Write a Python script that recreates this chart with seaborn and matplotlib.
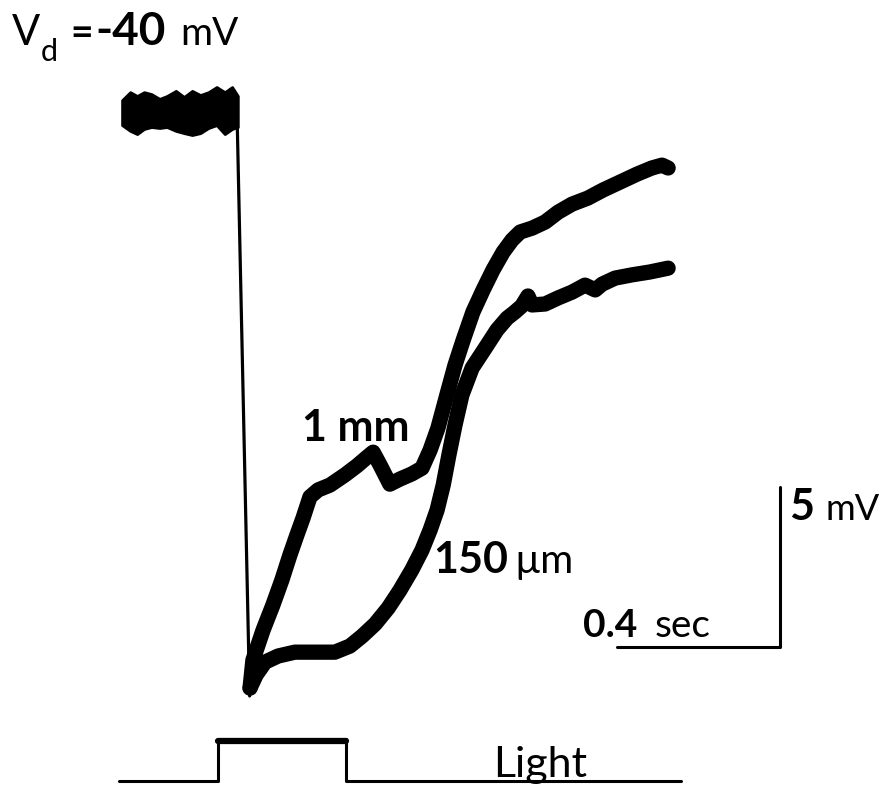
import numpy as np
import pandas as pd
import matplotlib
matplotlib.use("Agg")
import matplotlib.pyplot as plt
import seaborn as sns

# ---------------- data (time in s, potential in mV) ----------------
# dark baseline (noisy band: upper / lower envelope)
t_base = [-0.282, -0.262, -0.245, -0.228, -0.210, -0.190, -0.172, -0.150,
          -0.130, -0.110, -0.090, -0.070, -0.050, -0.030, -0.012, 0.002]
v_base_upper = [-39.63, -39.38, -39.50, -39.38, -39.44, -39.59, -39.50, -39.34,
                -39.53, -39.34, -39.47, -39.38, -39.22, -39.38, -39.22, -39.50]
v_base_lower = [-40.41, -40.59, -40.69, -40.53, -40.47, -40.50, -40.47, -40.59,
                -40.66, -40.72, -40.66, -40.50, -40.41, -40.69, -40.53, -40.47]

# fast hyperpolarising drop
t_drop = [0.000, 0.031]
v_drop = [-40.0, -58.25]

# response recorded 1 mm away
t_1mm = [0.032, 0.039, 0.064, 0.088, 0.110, 0.130, 0.147, 0.162, 0.179, 0.199,
         0.228, 0.265, 0.294, 0.317, 0.334, 0.351, 0.375, 0.400, 0.429, 0.454,
         0.474, 0.493, 0.515, 0.535, 0.555, 0.579, 0.604, 0.628, 0.653, 0.675,
         0.695, 0.724, 0.756, 0.788, 0.822, 0.861, 0.898, 0.940, 0.982, 1.018,
         1.043, 1.058]
v_1mm = [-58.00, -57.13, -56.19, -55.41, -54.63, -53.84, -53.22, -52.69, -52.03, -51.81,
         -51.66, -51.34, -51.06, -50.81, -50.63, -51.03, -51.63, -51.47, -51.31, -51.13,
         -50.56, -49.88, -48.84, -47.91, -47.13, -46.25, -45.56, -44.94, -44.38, -44.00,
         -43.75, -43.63, -43.44, -43.13, -42.88, -42.69, -42.44, -42.19, -41.94, -41.75,
         -41.66, -41.75]

# response recorded 150 um away
t_150 = [0.032, 0.047, 0.069, 0.101, 0.142, 0.191, 0.240, 0.277, 0.307, 0.339,
         0.371, 0.400, 0.429, 0.454, 0.474, 0.491, 0.506, 0.520, 0.535, 0.552,
         0.577, 0.609, 0.638, 0.663, 0.682, 0.699, 0.714, 0.724, 0.756, 0.788,
         0.822, 0.854, 0.879, 0.896, 0.928, 0.969, 1.013, 1.058]
v_150 = [-58.00, -57.59, -57.19, -57.00, -56.88, -56.88, -56.88, -56.69, -56.38, -56.00,
         -55.50, -54.94, -54.31, -53.69, -53.06, -52.44, -51.66, -50.72, -49.78, -48.84,
         -48.00, -47.38, -46.81, -46.44, -46.25, -46.06, -45.75, -46.03, -46.00, -45.81,
         -45.63, -45.41, -45.56, -45.38, -45.19, -45.09, -45.00, -44.88]

# light stimulus monitor
light_start, light_on, light_off, light_end = -0.290, -0.047, 0.268, 1.090

# scale bars
scale_t = 0.4   # sec
scale_v = 5.0   # mV

trace_labels = ["1 mm", "150 µm"]

# ---------------- figure ----------------
W, H, DPI = 889, 786, 100
sns.set_theme(style="white")
plt.rcParams["font.family"] = ["Lato", "DejaVu Sans"]

fig = plt.figure(figsize=(W / DPI, H / DPI), dpi=DPI)
ax = fig.add_axes([0, 0, 1, 1])

# pixel-to-data mapping: 407.5 px per second, 32 px per mV
px_per_s, px_per_mv = 407.5, 32.0
x0_px, y0_px = 237.0, 112.0
ax.set_xlim(-x0_px / px_per_s, (W - x0_px) / px_per_s)
ax.set_ylim(-40 - (H - y0_px) / px_per_mv, -40 + y0_px / px_per_mv)
ax.set_axis_off()

def tpx(x):
    return (x - x0_px) / px_per_s

def vpx(y):
    return -40 - (y - y0_px) / px_per_mv

ink = "black"

# baseline band
ax.fill_between(t_base, v_base_lower, v_base_upper, color=ink, lw=2.0,
                edgecolor=ink, joinstyle="round")

# drop
sns.lineplot(x=t_drop, y=v_drop, ax=ax, color=ink, lw=2.3, sort=False,
             estimator=None)

df = pd.concat([
    pd.DataFrame({"t": t_1mm, "v": v_1mm, "trace": trace_labels[0]}),
    pd.DataFrame({"t": t_150, "v": v_150, "trace": trace_labels[1]}),
])
sns.lineplot(data=df, x="t", y="v", units="trace", estimator=None, sort=False,
             ax=ax, color=ink, lw=11, solid_capstyle="round",
             solid_joinstyle="round", legend=False)

# light stimulus
lv_off, lv_on = vpx(781), vpx(739)
lt = [light_start, light_on, light_on, light_off, light_off, light_end]
lvv = [lv_off, lv_off, lv_on, lv_on, lv_off, lv_off]
sns.lineplot(x=lt, y=lvv, ax=ax, color=ink, lw=2.2, sort=False, estimator=None)
sns.lineplot(x=[light_on, light_off], y=[lv_on - 0.05, lv_on - 0.05], ax=ax,
             color=ink, lw=4.5, sort=False, estimator=None)

# scale bars
bar_t_end = tpx(780)
bar_v = vpx(647)
sns.lineplot(x=[bar_t_end - scale_t, bar_t_end, bar_t_end],
             y=[bar_v, bar_v, bar_v + scale_v], ax=ax, color=ink, lw=2.2,
             sort=False, estimator=None)

# ---------------- texts (pixel positions) ----------------
def txt(x, y, s, size, weight="normal"):
    fig.text(x / W, 1 - y / H, s, fontsize=size, fontweight=weight,
             ha="left", va="baseline", color=ink)

txt(12, 45, "V", 30)
txt(41, 61, "d", 22)
txt(70, 45, "=", 28, "bold")
txt(95, 45, "-40", 33, "bold")
txt(180, 45, "mV", 28)

txt(302, 441, trace_labels[0], 31, "bold")
txt(433, 573, "150", 31, "bold")
txt(514, 573, "µm", 29)

txt(789, 520, "5", 31, "bold")
txt(825, 520, "mV", 26)

txt(583, 637, "0.4", 28, "bold")
txt(655, 637, "sec", 28)

txt(493, 777, "Light", 31)

fig.savefig("out.png", dpi=DPI)
